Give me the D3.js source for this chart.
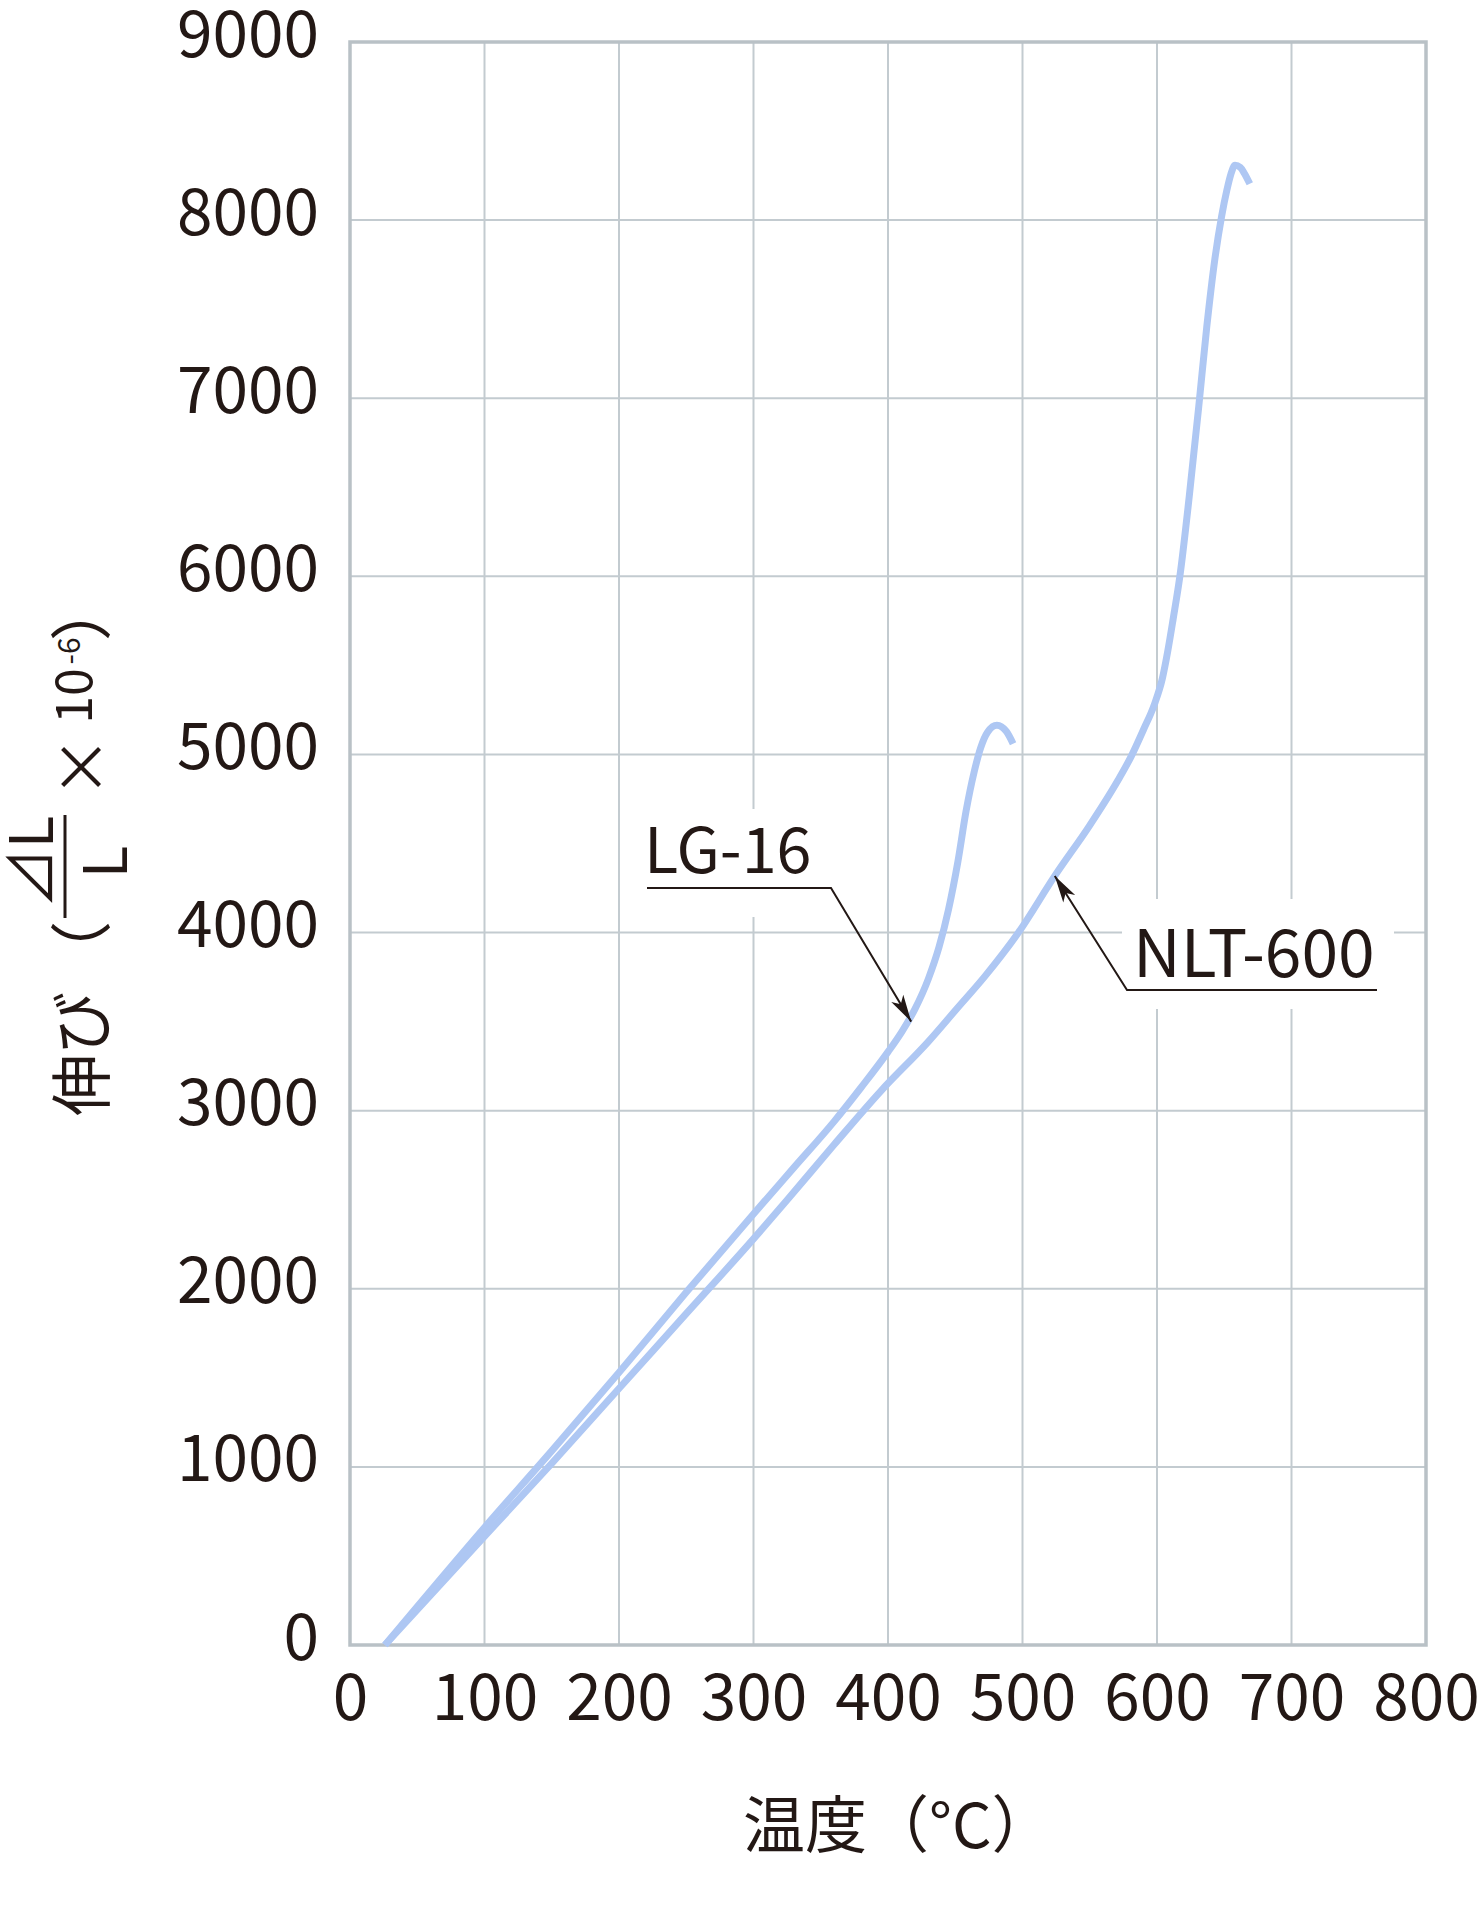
<!DOCTYPE html>
<html><head><meta charset="utf-8">
<script src="https://cdn.jsdelivr.net/npm/d3@7"></script>
<style>
html,body{margin:0;padding:0;background:#fff;}
svg text{font-family:"Noto Sans CJK JP","Noto Sans",sans-serif;fill:#231815;}
</style></head>
<body>
<svg id="chart" width="1480" height="1915"></svg>
<script>
// ---- data ----
const xTicks = [0,100,200,300,400,500,600,700,800];
const yTicks = [0,1000,2000,3000,4000,5000,6000,7000,8000,9000];
const seriesNames = ["LG-16","NLT-600"];
const lg16Temp = [26,100,150,200,250,300,330,360,380,400,410,420,430,438,445,452,458,464,469,474,481,488,493];
const lg16Val  = [0,660,1090,1530,1980,2420,2680,2940,3130,3330,3440,3570,3740,3920,4130,4400,4680,4900,5040,5125,5164,5129,5060];
const nltTemp = [26,100,150,200,250,300,325,360,395,430,451,472,497,524,550,571,581,590,598,604,608,612,617,624,631,637,643,648,652,655,658,662,665,669];
const nltVal  = [0,610,1020,1440,1860,2280,2498,2810,3113,3388,3571,3754,4000,4318,4602,4855,4992,5140,5280,5427,5580,5760,6000,6450,6950,7400,7780,8020,8170,8260,8308,8296,8262,8204];
const arrowTargets = [[415,3500],[524,4318]]; // data positions pointed at by the labels

// ---- layout ----
const L=350, R=1426, T=42, B=1645;
const x = d3.scaleLinear().domain([0,800]).range([L,R]);
const y = d3.scaleLinear().domain([0,9000]).range([B,T]);
const svg = d3.select("#chart");
const ink = "#231815", gridC = "#c3cbd0", curveC = "#aec7f3";

// grid
const g = svg.append("g");
g.selectAll("line.v").data(xTicks).join("line")
  .attr("x1",d=>x(d)).attr("x2",d=>x(d)).attr("y1",T).attr("y2",B)
  .attr("stroke",gridC).attr("stroke-width",2);
g.selectAll("line.h").data(yTicks).join("line")
  .attr("x1",L).attr("x2",R).attr("y1",d=>y(d)).attr("y2",d=>y(d))
  .attr("stroke",gridC).attr("stroke-width",2);
svg.append("rect").attr("x",L).attr("y",T).attr("width",R-L).attr("height",B-T)
  .attr("fill","none").attr("stroke","#b9c1c6").attr("stroke-width",3.5);

// axes (labels via d3 axis)
const ax = svg.append("g").attr("transform",`translate(0,${B})`)
  .call(d3.axisBottom(x).tickValues(xTicks).tickSize(0).tickPadding(0).tickFormat(d3.format("d")));
ax.select(".domain").remove();
ax.selectAll("text").attr("y",75).attr("dy",0).attr("font-size",64).style("fill",ink)
  .attr("font-family","Noto Sans CJK JP");
const ay = svg.append("g").attr("transform",`translate(${L},0)`)
  .call(d3.axisLeft(y).tickValues(yTicks).tickSize(0).tickPadding(0).tickFormat(d3.format("d")));
ay.select(".domain").remove();
ay.selectAll("text").attr("x",-31).attr("dy",0).attr("y",14).attr("font-size",64).style("fill",ink)
  .attr("font-family","Noto Sans CJK JP");

// white boxes behind labels
svg.append("rect").attr("x",640).attr("y",809).attr("width",205).attr("height",108).attr("fill","#fff");
svg.append("rect").attr("x",1122).attr("y",899).attr("width",272).attr("height",110).attr("fill","#fff");

// curves
const line = d3.line().x(d=>x(d[0])).y(d=>y(d[1])).curve(d3.curveMonotoneX);
const series = [d3.zip(lg16Temp,lg16Val), d3.zip(nltTemp,nltVal)];
svg.selectAll("path.curve").data(series).join("path").attr("class","curve")
  .attr("d",line).attr("fill","none").attr("stroke",curveC).attr("stroke-width",7)
  .attr("stroke-linejoin","round").attr("stroke-linecap","butt");

// annotation leaders
function leader(points){
  svg.append("polyline").attr("points",points.map(p=>p.join(",")).join(" "))
    .attr("fill","none").attr("stroke",ink).attr("stroke-width",2);
  const [p0,p1]=[points[points.length-2],points[points.length-1]];
  const a=Math.atan2(p1[1]-p0[1],p1[0]-p0[0]), len=27, w=7;
  const bx=p1[0]-len*Math.cos(a), by=p1[1]-len*Math.sin(a);
  const nx=-Math.sin(a)*w, ny=Math.cos(a)*w;
  const mx=p1[0]-len*0.75*Math.cos(a), my=p1[1]-len*0.75*Math.sin(a);
  svg.append("path").attr("d",`M${p1[0]},${p1[1]}L${bx+nx},${by+ny}L${mx},${my}L${bx-nx},${by-ny}Z`).attr("fill",ink);
}
const t0=[x(arrowTargets[0][0])+3,y(arrowTargets[0][1])];
const t1=[x(arrowTargets[1][0]),y(arrowTargets[1][1])];
leader([[647,888],[831,888],t0]);
leader([[1377,990],[1127,990],t1]);
svg.append("text").attr("x",644).attr("y",873).attr("font-size",63).text(seriesNames[0]);
svg.append("text").attr("x",1133).attr("y",977).attr("font-size",66).text(seriesNames[1]);

// x title
svg.append("text").attr("x",743).attr("y",1848).attr("font-size",62).text("温度（°C）");

// y title (rotated pieces)
function rt(txt,cx,cy,fs,central){
  const t=svg.append("text").attr("x",cx).attr("y",cy).attr("font-size",fs)
    .attr("text-anchor","middle").attr("transform",`rotate(-90,${cx},${cy})`).text(txt);
  if(central) t.attr("dominant-baseline","central");
  return t;
}
rt("伸び",78,1054,62,true);
rt("（",78,952,62,true);
rt("⊿L",53,862,60,false);
svg.append("line").attr("x1",65).attr("x2",65).attr("y1",815).attr("y2",918).attr("stroke",ink).attr("stroke-width",3);
rt("L",127,862,60,false);
rt("×",78,767,62,true);
rt("10",92,696,50,false);
rt("-6",80,651,30,false);
rt("）",78,610,62,true);
</script>
</body></html>
